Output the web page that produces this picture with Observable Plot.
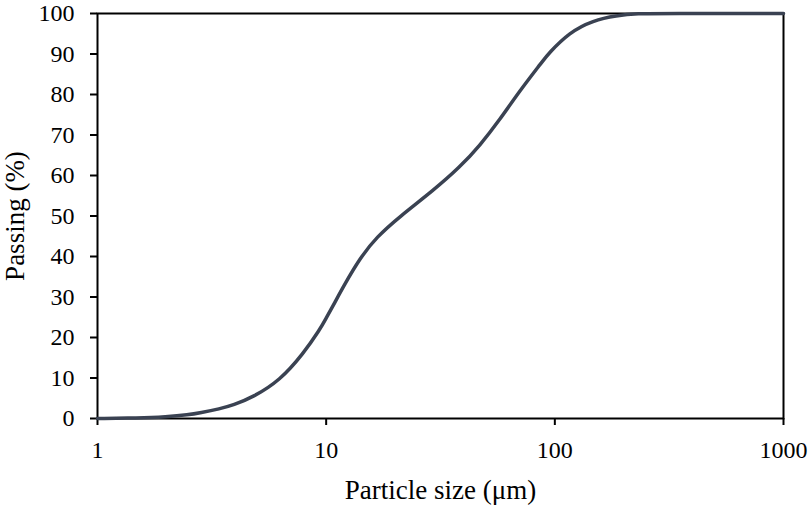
<!DOCTYPE html>
<html>
<head>
<meta charset="utf-8">
<script src="https://cdn.jsdelivr.net/npm/d3@7"></script>
<script src="https://cdn.jsdelivr.net/npm/@observablehq/plot@0.6"></script>
<style>
  html, body { margin: 0; padding: 0; background: #fff; }
  #chart { width: 810px; height: 505px; }
</style>
</head>
<body>
<div id="chart"></div>
<script>
const sizes   = [1, 1.5, 2, 2.5, 2.81, 3.43, 3.92, 4.8, 6.28, 7.94, 9.4, 10, 10.9, 11.9, 14.06, 16.6, 21, 29.4, 38.5, 47, 57.5, 70.4, 89, 93.3, 116, 147, 186, 230, 300, 1000];
const passing = [0, 0.1, 0.4, 0.9, 1.4, 2.4, 3.3, 5.3, 9.4, 16.0, 22.0, 24.8, 28.6, 32.6, 39.6, 44.8, 49.9, 56.3, 62.1, 67.4, 73.8, 81.0, 88.4, 90.0, 95.4, 98.3, 99.5, 100, 100, 100];
const xTicks = [1, 10, 100, 1000];
const yTicks = [0, 10, 20, 30, 40, 50, 60, 70, 80, 90, 100];

const data = sizes.map((s, i) => ({size: s, pass: passing[i]}));

const serif = "Liberation Serif";

const chart = Plot.plot({
  width: 810,
  height: 505,
  marginLeft: 97,
  marginRight: 27,
  marginTop: 13,
  marginBottom: 87,
  style: {fontFamily: serif, fontSize: "24px", color: "#000", background: "#fff"},
  x: {type: "log", domain: [1, 1000]},
  y: {domain: [0, 100]},
  marks: [
    Plot.axisX({ticks: xTicks, tickFormat: d => String(d), tickSize: 7, tickPadding: 15, fontSize: 24,
      label: "Particle size (μm)", labelAnchor: "center", labelArrow: "none", labelOffset: 80, strokeWidth: 2}),
    Plot.axisY({ticks: yTicks, tickSize: 7, tickPadding: 16, fontSize: 24,
      label: "Passing (%)", labelAnchor: "center", labelArrow: "none", labelOffset: 93, strokeWidth: 2}),
    Plot.frame({stroke: "#000", strokeWidth: 2}),
    Plot.line(data, {x: "size", y: "pass", curve: "basis", stroke: "#3a4252", strokeWidth: 3.5})
  ]
});
for (const t of chart.querySelectorAll("text")) {
  t.style.fontFamily = serif;
}
for (const t of chart.querySelectorAll('g[aria-label="x-axis label"] text, g[aria-label="y-axis label"] text')) {
  t.style.fontSize = "27px";
}
document.getElementById("chart").appendChild(chart);
</script>
</body>
</html>
